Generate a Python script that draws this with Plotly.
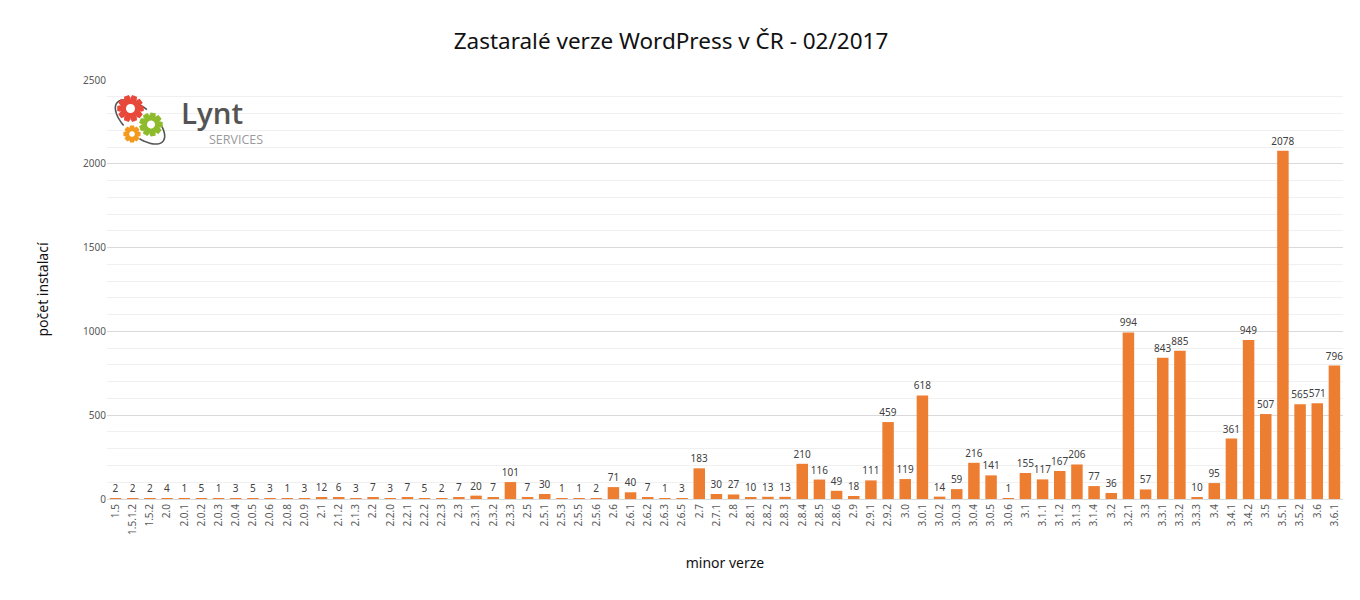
import numpy as np
import plotly.graph_objects as go

versions = ["1.5", "1.5.1.2", "1.5.2", "2.0", "2.0.1", "2.0.2", "2.0.3", "2.0.4", "2.0.5", "2.0.6", "2.0.8", "2.0.9",
            "2.1", "2.1.2", "2.1.3", "2.2", "2.2.0", "2.2.1", "2.2.2", "2.2.3", "2.3", "2.3.1", "2.3.2", "2.3.3",
            "2.5", "2.5.1", "2.5.3", "2.5.5", "2.5.6", "2.6", "2.6.1", "2.6.2", "2.6.3", "2.6.5", "2.7", "2.7.1",
            "2.8", "2.8.1", "2.8.2", "2.8.3", "2.8.4", "2.8.5", "2.8.6", "2.9", "2.9.1", "2.9.2", "3.0", "3.0.1",
            "3.0.2", "3.0.3", "3.0.4", "3.0.5", "3.0.6", "3.1", "3.1.1", "3.1.2", "3.1.3", "3.1.4", "3.2", "3.2.1",
            "3.3", "3.3.1", "3.3.2", "3.3.3", "3.4", "3.4.1", "3.4.2", "3.5", "3.5.1", "3.5.2", "3.6", "3.6.1"]
installs = [2, 2, 2, 4, 1, 5, 1, 3, 5, 3, 1, 3,
            12, 6, 3, 7, 3, 7, 5, 2, 7, 20, 7, 101,
            7, 30, 1, 1, 2, 71, 40, 7, 1, 3, 183, 30,
            27, 10, 13, 13, 210, 116, 49, 18, 111, 459, 119, 618,
            14, 59, 216, 141, 1, 155, 117, 167, 206, 77, 36, 994,
            57, 843, 885, 10, 95, 361, 949, 507, 2078, 565, 571, 796]

title_text = "Zastaralé verze WordPress v ČR - 02/2017"
x_title = "minor verze"
y_title = "počet instalací"
y_ticks = [0, 500, 1000, 1500, 2000, 2500]

FONT = "Noto Sans"
W, H = 1360, 600
L, R, T, B = 107, 17, 80, 101

fig = go.Figure(go.Bar(
    x=versions, y=installs,
    marker=dict(color="#ED7D31", line=dict(width=0)),
    text=[str(v) for v in installs], textposition="outside",
    textfont=dict(family=FONT, size=10, color="#404040"),
    constraintext="none", cliponaxis=False,
    hoverinfo="x+y",
))

def px2paper(px, py):
    return (px - L) / (W - L - R), (H - B - py) / (H - T - B)

def gear_path(n, r_out, r_in):
    pts = []
    step = 2 * np.pi / n
    for i in range(n):
        a = i * step
        for da, rr in [(-0.28, r_in), (-0.15, r_out), (0.15, r_out), (0.28, r_in)]:
            ang = a + da * step * 2
            pts.append((rr * np.cos(ang), rr * np.sin(ang)))
    return "M " + " L ".join(f"{x:.2f},{y:.2f}" for x, y in pts) + " Z"

def circle_path(r, k=40):
    t = np.linspace(0, 2 * np.pi, k, endpoint=False)
    return "M " + " L ".join(f"{r*np.cos(a):.2f},{r*np.sin(a):.2f}" for a in t) + " Z"

def arc_path(cx, cy, a, b, rot, t0, t1, k=40):
    t = np.linspace(t0, t1, k)
    xs = a * np.cos(t)
    ys = b * np.sin(t)
    c, s = np.cos(rot), np.sin(rot)
    X = cx + xs * c - ys * s
    Y = cy + xs * s + ys * c
    return "M " + " L ".join(f"{x:.2f},{y:.2f}" for x, y in zip(X, Y))

shapes = []
ax_, ay_ = px2paper(140, 122)
for t0, t1 in [(np.radians(95), np.radians(250)), (np.radians(290), np.radians(420))]:
    shapes.append(dict(type="path", xref="paper", yref="paper", xsizemode="pixel", ysizemode="pixel",
                       xanchor=ax_, yanchor=ay_, path=arc_path(0, 0, 30, 14, np.radians(-40), t0, t1),
                       line=dict(color="#555555", width=1.6), layer="above"))
for (cx, cy, n, ro, ri, hole, col) in [(130.5, 108.5, 10, 13.5, 10.0, 4.5, "#E8483A"),
                                      (151, 124.5, 9, 12, 8.8, 4.0, "#8DBB2C"),
                                      (132, 134, 8, 8.8, 6.3, 2.8, "#F39A1C")]:
    xa, ya = px2paper(cx, cy)
    shapes.append(dict(type="path", xref="paper", yref="paper", xsizemode="pixel", ysizemode="pixel",
                       xanchor=xa, yanchor=ya, path=gear_path(n, ro, ri),
                       fillcolor=col, line=dict(width=0), layer="above"))
    shapes.append(dict(type="path", xref="paper", yref="paper", xsizemode="pixel", ysizemode="pixel",
                       xanchor=xa, yanchor=ya, path=circle_path(hole),
                       fillcolor="white", line=dict(width=0), layer="above"))

lx, ly = px2paper(179, 113)
sx, sy = px2paper(207, 139.5)
annotations = [
    dict(text="Lynt", x=lx, y=ly, xref="paper", yref="paper", xanchor="left", yanchor="middle",
         showarrow=False, font=dict(family="Open Sans", size=29.5, color="#545454", weight=600)),
    dict(text="SERVICES", x=sx, y=sy, xref="paper", yref="paper", xanchor="left", yanchor="middle",
         showarrow=False, font=dict(family="Open Sans", size=12.5, color="#9a9a9a")),
]

fig.update_layout(
    width=W, height=H,
    margin=dict(l=L, r=R, t=T, b=B, autoexpand=False),
    paper_bgcolor="white", plot_bgcolor="white",
    bargap=0.33,
    showlegend=False,
    title=dict(text=title_text, x=671 / W, xref="container", xanchor="center",
               y=1 - 41 / H, yref="container", yanchor="middle",
               font=dict(family=FONT, size=22.5, color="#111111")),
    xaxis=dict(type="category", tickangle=-90, tickfont=dict(family=FONT, size=10, color="#595959"),
               showline=True, linecolor="#d9d9d9", linewidth=1, ticks="", showgrid=False, automargin=False,
               title=dict(text=x_title, font=dict(family=FONT, size=14, color="#111111"), standoff=24)),
    yaxis=dict(range=[0, 2500], tickvals=y_ticks, tickfont=dict(family=FONT, size=10, color="#595959"),
               showgrid=True, gridcolor="#d9d9d9", gridwidth=1, zeroline=False, showline=False, ticks="",
               automargin=False,
               minor=dict(dtick=100, showgrid=True, gridcolor="#f0f0f0", gridwidth=1),
               title=dict(text=y_title, font=dict(family=FONT, size=14, color="#111111"), standoff=31)),
    shapes=shapes, annotations=annotations,
)

fig.write_html("out.html", config={"displayModeBar": False},
               post_script="document.body.style.margin='0';")
